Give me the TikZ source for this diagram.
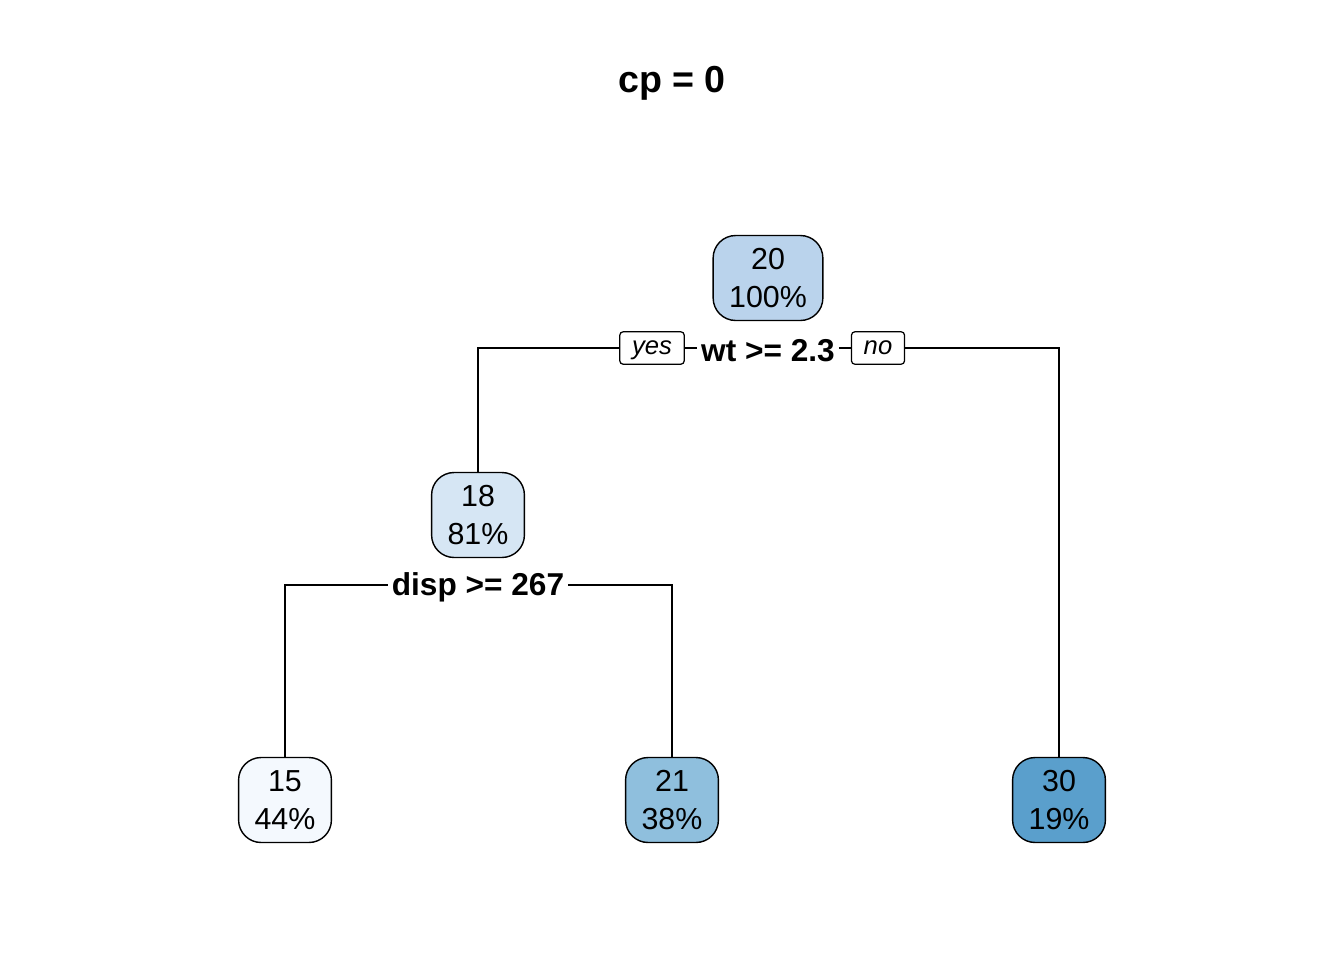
\documentclass[tikz,border=0pt]{standalone}
\usepackage{fontspec}
\setmainfont{Liberation Sans}
\definecolor{blueA}{HTML}{BAD3EC}
\definecolor{blueB}{HTML}{D6E6F4}
\definecolor{blueC}{HTML}{F4F9FE}
\definecolor{blueD}{HTML}{8FBFDD}
\definecolor{blueE}{HTML}{5A9FCC}
\tikzset{
  leaf/.style={draw, line width=0.8pt, rounded corners=0.45cm, align=center,
    inner xsep=0.32cm, minimum height=1.7cm,
    font=\fontsize{17.3}{21.5}\selectfont},
  split/.style={inner xsep=2pt, inner ysep=1pt, font=\fontsize{18}{20}\selectfont\bfseries},
  tag/.style={draw, line width=0.7pt, rounded corners=2pt, inner xsep=7pt,
    inner ysep=2.5pt, text height=10.5pt, text depth=3pt,
    font=\fontsize{14.6}{16}\selectfont\itshape}
}
\begin{document}
\begin{tikzpicture}[x=0.02cm, y=-0.02cm, line width=0.75pt]
\useasboundingbox (0,0) rectangle (1344,960);
\node[font=\fontsize{21.4}{24}\selectfont\bfseries] (title) at (672,83) {cp = 0};

% root and first split
\node[leaf, fill=blueA] (n20) at (768,278) {20\\100\%};
\node[split] (s1) at (768,351) {wt >= 2.3};
\node[tag] (yes) at (652,348) {yes};
\node[tag] (no) at (878,348) {no};

% left branch
\node[leaf, fill=blueB] (n18) at (478,515) {18\\81\%};
\node[split] (s2) at (478,587) {disp >= 267};

% leaves
\node[leaf, fill=blueC] (n15) at (285,800) {15\\44\%};
\node[leaf, fill=blueD] (n21) at (672,800) {21\\38\%};
\node[leaf, fill=blueE] (n30) at (1059,800) {30\\19\%};

\draw (n18.north) |- (yes.west);
\draw (yes.east) -- (yes.east -| s1.west);
\draw (no.west -| s1.east) -- (no.west);
\draw (no.east) -| (n30.north);
\draw (n15.north) |- (s2.west |- 0,585);
\draw (s2.east |- 0,585) -| (n21.north);
\end{tikzpicture}
\end{document}
